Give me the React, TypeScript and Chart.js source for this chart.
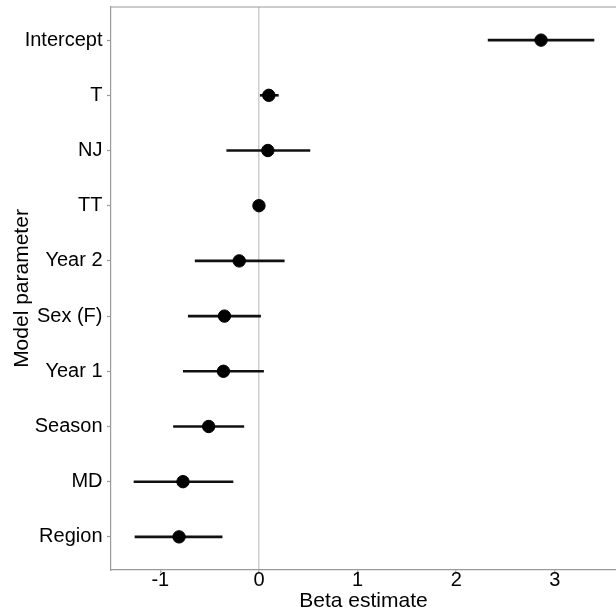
import React, { useEffect, useRef } from "react";
import { Chart, registerables } from "chart.js";

Chart.register(...registerables);

const categories = ["Intercept", "T", "NJ", "TT", "Year 2", "Sex (F)", "Year 1", "Season", "MD", "Region"];
const estimates = [2.86, 0.1, 0.09, 0.0, -0.2, -0.35, -0.36, -0.51, -0.77, -0.81];
const lowerCI = [2.32, 0.01, -0.33, -0.02, -0.65, -0.72, -0.77, -0.87, -1.27, -1.26];
const upperCI = [3.4, 0.2, 0.52, 0.02, 0.26, 0.02, 0.05, -0.15, -0.26, -0.37];
const xTicks = [-1, 0, 1, 2, 3];

const FONT = "'Liberation Sans', Arial, Helvetica, sans-serif";

export default function App() {
  const ref = useRef<HTMLCanvasElement | null>(null);

  useEffect(() => {
    if (!ref.current) return;
    const n = categories.length;
    const yOf = (i: number) => n - i;

    const errorBars = {
      id: "errorBars",
      beforeDatasetsDraw(chart: any) {
        const { ctx, scales } = chart;
        const xs = scales.x;
        const ys = scales.y;
        ctx.save();
        ctx.strokeStyle = "#111111";
        ctx.lineWidth = 2.6;
        ctx.lineCap = "butt";
        for (let i = 0; i < n; i++) {
          const y = ys.getPixelForValue(yOf(i));
          ctx.beginPath();
          ctx.moveTo(xs.getPixelForValue(lowerCI[i]), y);
          ctx.lineTo(xs.getPixelForValue(upperCI[i]), y);
          ctx.stroke();
        }
        ctx.restore();
      },
      afterDraw(chart: any) {
        const { ctx, chartArea } = chart;
        ctx.save();
        ctx.strokeStyle = "#9a9a9a";
        ctx.lineWidth = 1.2;
        ctx.beginPath();
        ctx.moveTo(chartArea.left, chartArea.top);
        ctx.lineTo(chartArea.right, chartArea.top);
        ctx.stroke();
        ctx.restore();
      },
    };

    const chart = new Chart(ref.current, {
      type: "scatter",
      data: {
        datasets: [
          {
            data: estimates.map((v, i) => ({ x: v, y: yOf(i) })),
            backgroundColor: "#000000",
            borderColor: "#000000",
            pointRadius: 6.2,
            pointHoverRadius: 6.2,
          },
        ],
      },
      options: {
        responsive: false,
        animation: false,
        layout: { autoPadding: false, padding: { top: 7, right: 0, left: 0, bottom: 0 } },
        plugins: { legend: { display: false }, tooltip: { enabled: false } },
        scales: {
          x: {
            type: "linear",
            min: -1.5,
            max: 3.62,
            afterBuildTicks: (s: any) => {
              s.ticks = xTicks.map((v) => ({ value: v }));
            },
            afterFit: (s: any) => {
              s.height = 41;
              s.paddingLeft = 0;
              s.paddingRight = 0;
            },
            ticks: {
              color: "#000000",
              font: { family: FONT, size: 20 },
              padding: -5,
              callback: (v: any) => String(v),
            },
            grid: {
              color: (c: any) => (c.tick && c.tick.value === 0 ? "#cfcfcf" : "rgba(0,0,0,0)"),
              lineWidth: 1.5,
              tickColor: "#9a9a9a",
              tickLength: 3,
              tickWidth: 1.2,
            },
            border: { display: true, color: "#9a9a9a", width: 1.2 },
            title: {
              display: true,
              text: "Beta estimate",
              color: "#000000",
              font: { family: FONT, size: 21, lineHeight: 1 },
              padding: { top: 0, bottom: -1 },
            },
          },
          y: {
            type: "linear",
            min: 0.4,
            max: n + 0.6,
            afterBuildTicks: (s: any) => {
              s.ticks = categories.map((_, i) => ({ value: yOf(i) }));
            },
            afterFit: (s: any) => {
              s.width = 111;
              s.paddingTop = 0;
              s.paddingBottom = 0;
            },
            ticks: {
              color: "#000000",
              font: { family: FONT, size: 20 },
              padding: 4.5,
              callback: (v: any) => categories[n - Number(v)] ?? "",
            },
            grid: {
              drawOnChartArea: false,
              tickColor: "#9a9a9a",
              tickLength: 4,
              tickWidth: 1.2,
            },
            border: { display: true, color: "#9a9a9a", width: 1.2 },
            title: {
              display: true,
              text: "Model parameter",
              color: "#000000",
              font: { family: FONT, size: 21, lineHeight: 1 },
              padding: { top: 11.5, bottom: 0 },
            },
          },
        },
      },
      plugins: [errorBars],
    });

    return () => chart.destroy();
  }, []);

  return (
    <div style={{ position: "absolute", left: 0, top: 0, width: 616, height: 611, background: "#ffffff" }}>
      <canvas ref={ref} width={616} height={611} style={{ display: "block" }} />
    </div>
  );
}
